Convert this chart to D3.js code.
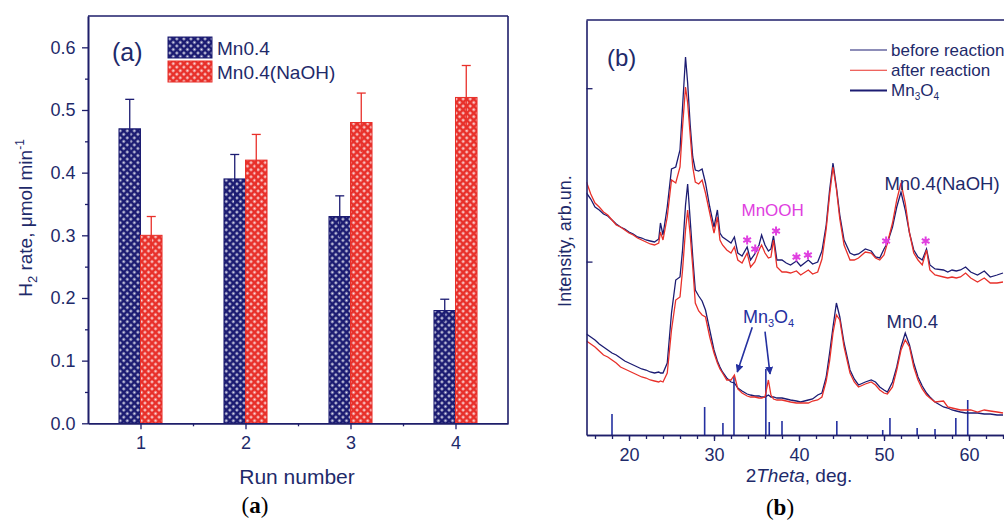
<!DOCTYPE html>
<html><head><meta charset="utf-8">
<script src="https://cdn.jsdelivr.net/npm/d3@7"></script>
<style>body{margin:0;background:#fff} svg{display:block}</style>
</head><body>
<svg id="c" width="1004" height="527"></svg>
<script>
// ---------- Panel (a) data ----------
const runs = [1, 2, 3, 4];
const seriesNames = ["Mn0.4", "Mn0.4(NaOH)"];
const rateMn = [0.47, 0.39, 0.33, 0.18];
const rateNaOH = [0.30, 0.42, 0.48, 0.52];
const errMn = [0.047, 0.039, 0.033, 0.018];
const errNaOH = [0.030, 0.041, 0.047, 0.051];
const yTicksA = [0, 0.1, 0.2, 0.3, 0.4, 0.5, 0.6];
const yMinorA = [0.05, 0.15, 0.25, 0.35, 0.45, 0.55];
const xMinorA = [1.5, 2.5, 3.5];

// ---------- Panel (b) data ----------
const twoTheta = [15,15.5,16,16.5,17,17.5,18,18.5,19,19.5,20,20.5,21,21.5,22,22.5,23,23.5,23.7,24,24.5,25,25.5,26,26.3,26.65,26.9,27.2,27.5,27.8,28.2,28.6,29,29.5,30,30.4,30.7,31,31.5,32,32.4,32.8,33.3,33.9,34.3,34.8,35.3,35.6,36,36.4,36.7,37.0,37.4,38,38.5,39,39.7,40.2,41.1,41.6,42.2,42.7,43.2,43.6,44.0,44.4,44.8,45.3,46,46.5,47,47.8,48.5,49,49.5,50,50.4,51,51.5,52,52.5,53,53.5,54,54.5,55,55.4,56,57,57.5,58,58.5,59,59.6,60.2,61,61.8,62.5,63.3,64];
const naohBefore = [242,236,228,225,221,219,215,211,208,206,203,201,198,197,195,194,193,196,212,200,228,266,268,285,328,378,352,310,278,265,264,266,252,228,208,225,202,198,195,192,198,182,179,188,175,181,190,200,190,184,186,199,175,175,172,170,174,169,175,171,173,184,210,245,272,248,220,195,182,180,181,186,184,178,177,186,192,208,228,243,225,202,185,178,175,186,170,166,165,163,165,164,165,168,163,160,164,158,160,162];
const naohAfter = [253,241,232,228,223,220,215,210,208,205,202,200,197,195,193,191,190,192,203,195,218,255,252,268,308,348,332,300,268,253,251,255,242,222,202,218,195,190,185,182,188,175,172,182,168,173,185,190,182,177,178,195,168,163,163,162,164,160,165,161,163,176,206,240,268,246,216,190,175,175,177,183,182,177,175,180,192,212,235,252,232,202,182,175,170,185,165,160,158,157,158,157,158,162,157,153,157,152,152,153];
const mnBefore = [101,98,95,91,88,85,82,80,77,74,72,70,68,66,65,63,62,63,62,62,72,122,155,158,185,230,251,215,178,145,139,134,125,105,85,74,68,63,57,53,52,47,44,41,40,39,39,38,38,40,38,38,37,37,36,35,34,33,35,36,40,42,58,82,108,132,118,92,65,56,50,53,55,53,48,45,43,53,68,88,102,90,72,58,49,42,38,33,28,27,25,24,23,22,22,22,21,21,20,20];
const mnAfter = [94,91,88,84,80,78,75,72,68,66,64,62,60,58,57,55,54,53,54,53,62,105,135,138,165,205,225,200,168,132,124,120,118,98,82,72,66,62,55,55,60,46,42,39,38,38,37,37,38,55,40,36,35,35,34,33,32,32,32,34,35,38,54,74,102,120,115,88,62,53,48,51,53,50,45,42,41,48,65,85,95,88,68,55,46,40,37,33,34,28,27,26,25,25,25,23,25,24,23,22];
const stickPos = [18.0, 28.9, 31.05, 32.35, 36.1, 36.5, 38.0, 44.45, 49.85, 50.7, 53.9, 56.0, 58.45, 59.85];
const stickInt = [21, 28, 12, 59, 66, 13, 14, 14, 5, 17, 7, 6, 17, 35];
const mnoohPos = [33.9, 34.85, 37.3, 39.7, 41.05, 50.25, 54.9];
const mnoohInt = [195, 186, 204, 178, 180, 194, 194];
const xTicksB = [20, 30, 40, 50, 60];
const legendB = ["before reaction", "after reaction", "Mn3O4"];

// ---------- styling ----------
const NAVY = "#1c1c72", RED = "#e8302a", AX = "#1e1e6a", MAG = "#e040e0", TXT = "#1e2a6a";
const FONT = "Arial, 'Liberation Sans', sans-serif";
const svg = d3.select("#c");
const defs = svg.append("defs");
function pat(id, bg, hole) {
  const p = defs.append("pattern").attr("id", id).attr("width", 5).attr("height", 5)
    .attr("patternUnits", "userSpaceOnUse").attr("patternTransform", "rotate(45)");
  p.append("rect").attr("width", 5).attr("height", 5).attr("fill", bg);
  p.append("rect").attr("x", 1.4).attr("y", 1.4).attr("width", 2.2).attr("height", 2.2).attr("fill", hole);
}
pat("pBlue", NAVY, "#e8e8f4");
pat("pRed", RED, "#fde8e8");

// ================= Panel (a) =================
const xA = d3.scaleLinear().domain([0.5, 4.5]).range([88, 508]);
const yA = d3.scaleLinear().domain([0, 0.65]).range([423.3, 16]);
const gA = svg.append("g");
const bw = 0.205;
const barData = [];
runs.forEach((r, i) => {
  barData.push({r, v: rateMn[i], e: errMn[i], s: 0});
  barData.push({r, v: rateNaOH[i], e: errNaOH[i], s: 1});
});
gA.selectAll("rect.bar").data(barData).enter().append("rect").attr("class", "bar")
  .attr("x", d => d.s === 0 ? xA(d.r - bw) : xA(d.r))
  .attr("width", xA(bw) - xA(0))
  .attr("y", d => yA(d.v)).attr("height", d => yA(0) - yA(d.v))
  .attr("fill", d => d.s === 0 ? "url(#pBlue)" : "url(#pRed)")
  .attr("stroke", d => d.s === 0 ? NAVY : RED).attr("stroke-width", 1);
const eb = gA.selectAll("g.err").data(barData).enter().append("g")
  .attr("stroke", d => d.s === 0 ? NAVY : RED).attr("stroke-width", 1.3);
const cx = d => d.s === 0 ? xA(d.r - bw / 2) : xA(d.r + bw / 2);
eb.append("line").attr("x1", cx).attr("x2", cx).attr("y1", d => yA(d.v - d.e)).attr("y2", d => yA(d.v + d.e));
eb.append("line").attr("x1", d => cx(d) - 4.5).attr("x2", d => cx(d) + 4.5).attr("y1", d => yA(d.v + d.e)).attr("y2", d => yA(d.v + d.e));

// axes
const axL = gA.append("g").attr("transform", `translate(${xA(0.5)},0)`)
  .call(d3.axisLeft(yA).tickValues(yTicksA).tickFormat(d3.format(".1f")).tickSize(6).tickSizeOuter(0));
gA.append("g").attr("transform", `translate(${xA(0.5)},0)`)
  .call(d3.axisLeft(yA).tickValues(yMinorA).tickFormat("").tickSize(3).tickSizeOuter(0));
const axB = gA.append("g").attr("transform", `translate(0,${yA(0)})`)
  .call(d3.axisBottom(xA).tickValues(runs).tickFormat(d3.format("d")).tickSize(6).tickSizeOuter(0));
gA.append("g").attr("transform", `translate(0,${yA(0)})`)
  .call(d3.axisBottom(xA).tickValues(xMinorA).tickFormat("").tickSize(3).tickSizeOuter(0));
gA.append("line").attr("x1", xA(0.5)).attr("x2", xA(4.5)).attr("y1", yA(0.65)).attr("y2", yA(0.65));
gA.append("line").attr("x1", xA(4.5)).attr("x2", xA(4.5)).attr("y1", yA(0.65)).attr("y2", yA(0));
gA.selectAll("line").filter(function(){return !this.getAttribute("stroke") && !this.parentNode.getAttribute("stroke");})
  .attr("stroke", AX);
gA.selectAll(".domain").attr("stroke", AX).attr("stroke-width", 1.6);
gA.selectAll(".tick line").attr("stroke", AX).attr("stroke-width", 1.3);
gA.selectAll("line").filter(function(){return this.parentNode === gA.node();}).attr("stroke", AX).attr("stroke-width", 1.6);
axL.selectAll("text").attr("font-size", 18).attr("font-family", FONT).attr("fill", TXT).attr("dx", "-0.2em");
axB.selectAll("text").attr("font-size", 18).attr("font-family", FONT).attr("fill", TXT).attr("dy", "0.95em");

// legend a
const legA = gA.append("g");
seriesNames.forEach((n, i) => {
  legA.append("rect").attr("x", 168).attr("y", 37 + i * 24).attr("width", 44).attr("height", 21)
    .attr("fill", i === 0 ? "url(#pBlue)" : "url(#pRed)").attr("stroke", i === 0 ? NAVY : RED);
  legA.append("text").attr("x", 217).attr("y", 54.5 + i * 24).text(n)
    .attr("font-size", 19).attr("font-family", FONT).attr("fill", TXT);
});
gA.append("text").attr("x", 112).attr("y", 61).text("(a)").attr("font-size", 25).attr("font-family", FONT).attr("fill", TXT);
// axis titles
const yt = gA.append("text").attr("transform", "translate(32,218) rotate(-90)").attr("text-anchor", "middle")
  .attr("font-size", 19).attr("font-family", FONT).attr("fill", TXT);
yt.append("tspan").text("H");
yt.append("tspan").text("2").attr("font-size", 13).attr("dy", 5);
yt.append("tspan").text(" rate, μmol min").attr("dy", -5);
yt.append("tspan").text("-1").attr("font-size", 12).attr("dy", -8);
gA.append("text").attr("x", 297).attr("y", 484).attr("text-anchor", "middle").text("Run number")
  .attr("font-size", 21).attr("font-family", FONT).attr("fill", TXT);
const capA = svg.append("text").attr("x", 255).attr("y", 513).attr("text-anchor", "middle")
  .attr("font-size", 23).attr("font-family", "'Liberation Serif', 'Times New Roman', serif").attr("fill", "#000");
capA.append("tspan").text("(");
capA.append("tspan").text("a").attr("font-weight", "bold");
capA.append("tspan").text(")");

// ================= Panel (b) =================
const xB = d3.scaleLinear().domain([15, 70]).range([586.5, 586.5 + 55 * 8.5]);
const yB = d3.scaleLinear().domain([0, 415]).range([435, 20]);
const gB = svg.append("g");
defs.append("clipPath").attr("id", "clipB").append("rect").attr("x", 586.5).attr("y", 20).attr("width", 420).attr("height", 415);
const plot = gB.append("g").attr("clip-path", "url(#clipB)");
// sticks
plot.selectAll("line.stick").data(stickPos).enter().append("line")
  .attr("x1", d => xB(d)).attr("x2", d => xB(d)).attr("y1", yB(0))
  .attr("y2", (d, i) => yB(stickInt[i])).attr("stroke", "#2430a0").attr("stroke-width", 1.6);
const line = d3.line().x((d, i) => xB(twoTheta[i])).y(d => yB(d));
[[mnBefore, NAVY], [mnAfter, RED], [naohBefore, NAVY], [naohAfter, RED]].forEach(([arr, col]) => {
  plot.append("path").attr("d", line(arr)).attr("fill", "none").attr("stroke", col).attr("stroke-width", 1.3);
});
// asterisks
plot.selectAll("path.ast").data(mnoohPos).enter().append("path")
  .attr("transform", (d, i) => `translate(${xB(d)},${yB(mnoohInt[i])})`)
  .attr("d", d3.symbol(d3.symbolAsterisk).size(55)).attr("fill", "none").attr("stroke", MAG).attr("stroke-width", 2);
// axes b
const axBL = gB.append("g").attr("transform", `translate(${xB(15)},0)`)
  .call(d3.axisRight(yB).tickValues([173.4, 346.8]).tickFormat("").tickSize(6).tickSizeOuter(0));
const minorB = d3.range(16, 70, 2);
gB.append("g").attr("transform", `translate(0,${yB(0)})`)
  .call(d3.axisBottom(xB).tickValues(minorB).tickFormat("").tickSize(4).tickSizeOuter(0));
const axBB = gB.append("g").attr("transform", `translate(0,${yB(0)})`)
  .call(d3.axisBottom(xB).tickValues(xTicksB).tickFormat(d3.format("d")).tickSize(6).tickSizeOuter(0));
gB.append("line").attr("x1", xB(15)).attr("x2", 1004).attr("y1", yB(415)).attr("y2", yB(415)).attr("stroke", AX).attr("stroke-width", 1.6);
gB.selectAll(".domain").attr("stroke", AX).attr("stroke-width", 1.6);
gB.selectAll(".tick line").attr("stroke", AX).attr("stroke-width", 1.3);
axBB.selectAll("text").attr("font-size", 18).attr("font-family", FONT).attr("fill", TXT).attr("dy", "0.95em");
// labels b
const lab = (x, y, t, size, col, anchor) => gB.append("text").attr("x", x).attr("y", y).text(t)
  .attr("font-size", size).attr("font-family", FONT).attr("fill", col).attr("text-anchor", anchor || "start");
lab(xB(17.4), yB(369), "(b)", 24, TXT);
lab(xB(36.9), yB(219), "MnOOH", 17, MAG, "middle");
lab(xB(50.05), yB(245), "Mn0.4(NaOH)", 18.5, TXT);
lab(xB(50.3), yB(107), "Mn0.4", 18.5, TXT);
const mlab = gB.append("text").attr("x", xB(33.4)).attr("y", yB(112)).attr("font-size", 18).attr("font-family", FONT).attr("fill", "#2430a0");
mlab.append("tspan").text("Mn"); mlab.append("tspan").text("3").attr("font-size", 11).attr("dy", 4);
mlab.append("tspan").text("O").attr("dy", -4); mlab.append("tspan").text("4").attr("font-size", 11).attr("dy", 4);
// arrows
defs.append("marker").attr("id", "arr").attr("viewBox", "0 0 10 10").attr("refX", 9).attr("refY", 5)
  .attr("markerWidth", 5).attr("markerHeight", 5).attr("orient", "auto")
  .append("path").attr("d", "M0,0L10,5L0,10z").attr("fill", "#2430a0");
[[34.5, 107.7, 32.74, 63], [36.0, 103.3, 36.59, 61]].forEach(a => {
  gB.append("line").attr("x1", xB(a[0])).attr("y1", yB(a[1])).attr("x2", xB(a[2])).attr("y2", yB(a[3]))
    .attr("stroke", "#2430a0").attr("stroke-width", 1.6).attr("marker-end", "url(#arr)");
});
// legend b
legendB.forEach((n, i) => {
  const y = 50 + i * 20.3;
  gB.append("line").attr("x1", 850).attr("x2", 887).attr("y1", y).attr("y2", y)
    .attr("stroke", i === 1 ? RED : NAVY).attr("stroke-width", i === 2 ? 2 : 1.1);
  const t = gB.append("text").attr("x", 891).attr("y", y + 5.5).attr("font-size", 17).attr("font-family", FONT).attr("fill", TXT);
  if (i === 2) {
    t.append("tspan").text("Mn"); t.append("tspan").text("3").attr("font-size", 10).attr("dy", 4);
    t.append("tspan").text("O").attr("dy", -4); t.append("tspan").text("4").attr("font-size", 10).attr("dy", 4);
  } else t.text(n);
});
// axis titles b
gB.append("text").attr("transform", "translate(571,241) rotate(-90)").attr("text-anchor", "middle")
  .text("Intensity, arb.un.").attr("font-size", 18).attr("font-family", FONT).attr("fill", TXT);
const xt = gB.append("text").attr("x", 799).attr("y", 482).attr("text-anchor", "middle")
  .attr("font-size", 19).attr("font-family", FONT).attr("fill", TXT);
xt.append("tspan").text("2"); xt.append("tspan").text("Theta").attr("font-style", "italic"); xt.append("tspan").text(", deg.");
const capB = svg.append("text").attr("x", 780).attr("y", 515).attr("text-anchor", "middle")
  .attr("font-size", 23).attr("font-family", "'Liberation Serif', 'Times New Roman', serif").attr("fill", "#000");
capB.append("tspan").text("(");
capB.append("tspan").text("b").attr("font-weight", "bold");
capB.append("tspan").text(")");
</script>
</body></html>
